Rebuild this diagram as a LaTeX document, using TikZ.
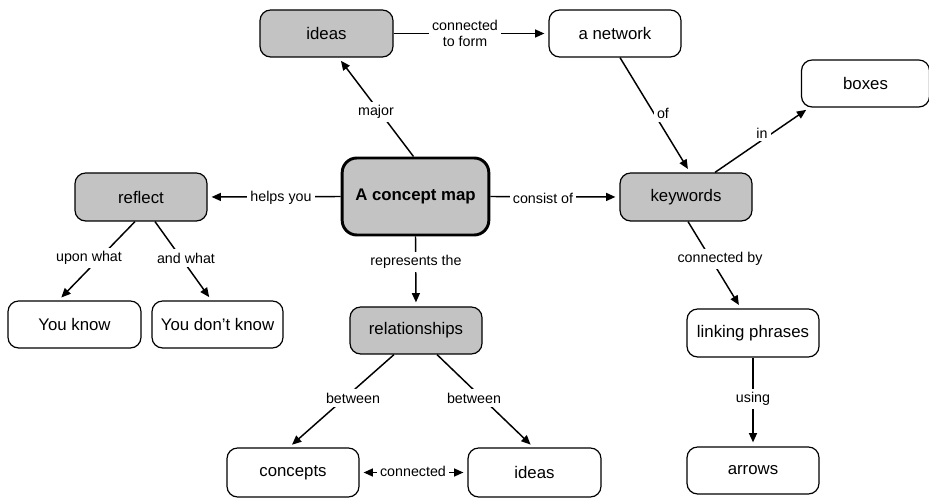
\documentclass[tikz,border=0pt]{standalone}
\usepackage{fontspec}
\setmainfont{Liberation Sans}
\usetikzlibrary{arrows.meta,calc}
\definecolor{boxgray}{RGB}{195,195,195}
\tikzset{
  concept/.style={draw=black, line width=0.9pt, rounded corners=8pt,
    minimum width=99pt, minimum height=35.25pt, inner sep=0pt,
    font=\fontsize{12.6}{14}\selectfont, fill=white},
  key/.style={concept, fill=boxgray},
  central/.style={concept, fill=boxgray, line width=2.2pt, rounded corners=11pt,
    minimum width=110pt, minimum height=57.75pt, font=\fontsize{12.6}{14}\selectfont\bfseries},
  link/.style={fill=white, inner sep=2.5pt, align=center,
    font=\fontsize{10.7}{12}\selectfont},
  edge/.style={line width=1.1pt, -{Triangle[length=7pt,width=6pt]}, shorten >=3pt},
  biedge/.style={line width=1.1pt, {Triangle[length=7pt,width=6pt]}-{Triangle[length=7pt,width=6pt]}, shorten >=3pt, shorten <=3pt}
}
\begin{document}
\begin{tikzpicture}[x=0.75pt,y=-0.75pt]
\useasboundingbox (0,0) rectangle (929,498);

% concepts
\node[key, minimum width=99.75pt] (ideasT) at (326.5,33.5) {ideas};
\node[concept] (net) at (615,33.5) {a network};
\node[concept, minimum width=96pt] (boxes) at (865.5,83.5) {boxes};
\node[central] (cm) at (415.5,196.5) {A concept map};
\node[key, minimum height=36pt] (reflect) at (141,197) {reflect};
\node[key, minimum height=36pt] (kw) at (686,197) {keywords};
\node[concept, minimum width=99.75pt] (yk) at (74.5,324.5) {You know};
\node[concept, minimum width=98.25pt] (ydk) at (217.5,324.5) {You don’t know};
\node[key] (rel) at (416,330.5) {relationships};
\node[concept, minimum height=36.75pt] (concepts) at (293,472.5) {concepts};
\node[concept, minimum width=99.75pt, minimum height=36.75pt] (ideasB) at (534.5,472.5) {ideas};
\node[concept, minimum height=36pt] (lp) at (753,333) {linking phrases};
\node[concept] (arrows) at (753,470.5) {arrows};

% connectors
\draw[edge] ($(cm.north)+(-2,0)$) -- ($(ideasT.south)+(12,0)$);
\draw[edge] (ideasT.east) -- (net.west);
\draw[edge] ($(net.south)+(5,0)$) -- ($(kw.north)+(4,0)$);
\draw[edge] ($(kw.north)+(29,0)$) -- ($(boxes.south)+(-56,0)$);
\draw[edge] (cm.west) -- (reflect.east);
\draw[edge] (cm.east) -- (kw.west);
\draw[edge] ($(reflect.south)+(-6,0)$) -- ($(yk.north)+(-16,0)$);
\draw[edge] ($(reflect.south)+(14,0)$) -- ($(ydk.north)+(-6,0)$);
\draw[edge] (cm.south) -- (rel.north);
\draw[edge] ($(rel.south)+(-22,0)$) -- ($(concepts.north)+(-4,0)$);
\draw[edge] ($(rel.south)+(21,0)$) -- ($(ideasB.north)+(-1,0)$);
\draw[biedge] (concepts.east) -- (ideasB.west);
\draw[edge] ($(kw.south)+(2,0)$) -- ($(lp.north)+(-12,0)$);
\draw[edge] (lp.south) -- (arrows.north);

% linking phrases
\node[link] (l1) at (376,112) {major};
\node[link] (l2) at (465,33.5) {connected\\to form};
\node[link] (l3) at (663,113) {of};
\node[link] (l4) at (762,133) {in};
\node[link] (l5) at (281,198) {helps you};
\node[link] (l6) at (543,198) {consist of};
\node[link] (l7) at (89,258) {upon what};
\node[link] (l8) at (186,258) {and what};
\node[link] (l9) at (416,262) {represents the};
\node[link] (l10) at (353,398) {between};
\node[link] (l11) at (474,398) {between};
\node[link] (l12) at (413,471) {connected};
\node[link] (l13) at (720,259) {connected by};
\node[link] (l14) at (753,399) {using};
\end{tikzpicture}
\end{document}
